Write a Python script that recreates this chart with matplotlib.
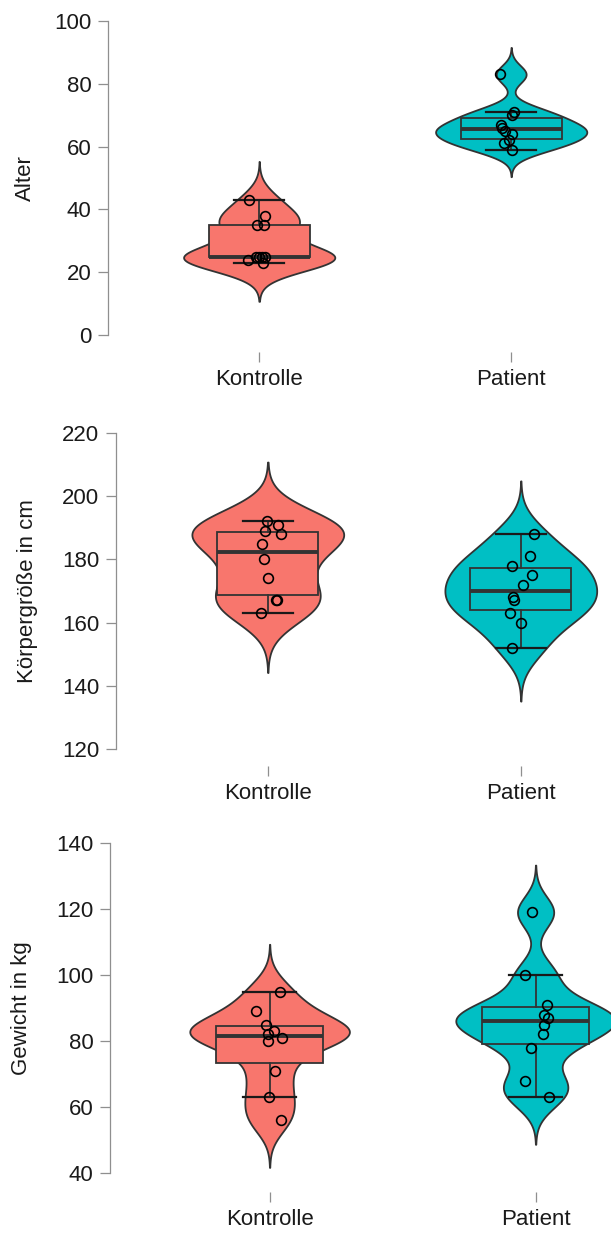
import numpy as np
import matplotlib.pyplot as plt

plt.rcParams['font.family'] = ['Liberation Sans', 'DejaVu Sans']

groups = ["Kontrolle", "Patient"]
fill_colors = ["#F8766D", "#00BFC4"]

alter_kontrolle = [43, 38, 35, 35, 25, 25, 25, 25, 24, 23]
alter_patient = [83, 71, 70, 67, 66, 65, 64, 62, 61, 59]
groesse_kontrolle = [192, 191, 189, 188, 185, 180, 174, 167, 167, 163]
groesse_patient = [188, 181, 178, 175, 172, 168, 167, 163, 160, 152]
gewicht_kontrolle = [95, 89, 85, 83, 82, 81, 80, 71, 63, 56]
gewicht_patient = [119, 100, 91, 88, 87, 85, 82, 78, 68, 63]

# horizontal jitter of the single observations (category units)
jit_alter_k = [-0.040, 0.023, -0.008, 0.020, -0.012, 0.0, 0.012, 0.024, -0.044, 0.016]
jit_alter_p = [-0.045, 0.012, 0.003, -0.040, -0.036, -0.024, 0.004, -0.008, -0.028, 0.004]
jit_groesse_k = [-0.003, 0.041, -0.012, 0.051, -0.023, -0.016, 0.0, 0.032, 0.036, -0.025]
jit_groesse_p = [0.051, 0.036, -0.033, 0.046, 0.007, -0.030, -0.028, -0.041, 0.0, -0.033]
jit_gewicht_k = [0.040, -0.050, -0.015, 0.015, -0.006, 0.046, -0.006, 0.019, -0.003, 0.044]
jit_gewicht_p = [-0.012, -0.039, 0.044, 0.031, 0.046, 0.030, 0.027, -0.016, -0.038, 0.049]

W, H = 611, 1234
line_col = "#333333"
axis_col = "#8f8f8f"

# (label, data, jitter, ymin, ymax, axis x px, category spacing px, top px, bottom px, tick offset px, label x px)
panels = [
    ("Alter", [alter_kontrolle, alter_patient], [jit_alter_k, jit_alter_p],
     0, 100, 108, 252, 21, 335, 17, 25),
    ("Körpergröße in cm", [groesse_kontrolle, groesse_patient], [jit_groesse_k, jit_groesse_p],
     120, 220, 116, 253, 433, 749, 17, 28),
    ("Gewicht in kg", [gewicht_kontrolle, gewicht_patient], [jit_gewicht_k, jit_gewicht_p],
     40, 140, 110, 266, 843, 1173, 19, 22),
]


def bw_nrd0(x):
    x = np.asarray(x, float)
    sd = x.std(ddof=1)
    q75, q25 = np.percentile(x, [75, 25])
    lo = min(sd, (q75 - q25) / 1.34)
    if lo == 0:
        lo = sd
    return 0.9 * lo * len(x) ** -0.2


def draw_violin(ax, pos, data, color, halfwidth=0.3):
    x = np.asarray(data, float)
    bw = bw_nrd0(x)
    y = np.linspace(x.min() - 3 * bw, x.max() + 3 * bw, 512)
    dens = np.exp(-0.5 * ((y[:, None] - x[None, :]) / bw) ** 2).sum(axis=1)
    dens = dens / dens.max() * halfwidth
    ax.fill_betweenx(y, pos - dens, pos + dens, facecolor=color,
                     edgecolor=line_col, lw=1.3, zorder=1, clip_on=False)


fig = plt.figure(figsize=(W / 100, H / 100), dpi=100)

for label, datasets, jitters, ymin, ymax, x0, step, top, bot, out, lab_x in panels:
    ax = fig.add_axes([x0 / W, 1 - bot / H, 2.2 * step / W, (bot - top) / H])
    for i, (data, jit, col) in enumerate(zip(datasets, jitters, fill_colors)):
        pos = i + 1
        draw_violin(ax, pos, data, col)
        ax.boxplot([data], positions=[pos], widths=0.4, capwidths=0.2,
                   showfliers=False, patch_artist=True, zorder=2,
                   boxprops=dict(facecolor=col, edgecolor=line_col, lw=1.3),
                   medianprops=dict(color=line_col, lw=2.8),
                   whiskerprops=dict(color=line_col, lw=1.3),
                   capprops=dict(color="#1a1a1a", lw=1.6))
        ax.plot(pos + np.asarray(jit), data, 'o', mfc='none', mec='black',
                ms=7, mew=1.2, zorder=3, clip_on=False)

    ax.set_xlim(0.4, 2.6)
    ax.set_ylim(ymin, ymax)
    ax.set_yticks(np.arange(ymin, ymax + 1, 20))
    ax.set_xticks([1, 2], groups)
    ax.spines['top'].set_visible(False)
    ax.spines['right'].set_visible(False)
    ax.spines['left'].set_color(axis_col)
    ax.spines['left'].set_linewidth(0.9)
    ax.spines['bottom'].set_position(('outward', out * 0.72))
    ax.spines['bottom'].set_color('none')
    ax.tick_params(axis='both', length=7, width=0.9, color=axis_col,
                   labelsize=16, labelcolor='#1a1a1a', pad=5)
    ax.set_facecolor('none')
    fig.text(lab_x / W, 1 - (top + bot) / 2 / H, label, rotation=90,
             ha='center', va='center', fontsize=16, color='#1a1a1a')

fig.savefig("out.png", dpi=100)
